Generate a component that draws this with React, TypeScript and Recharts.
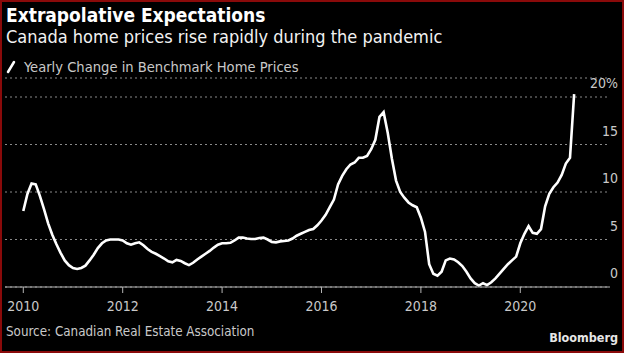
import React from 'react';
import { LineChart, Line, XAxis, YAxis, CartesianGrid } from 'recharts';

// yearly change in benchmark home prices (%), monthly, Jan of each year first
const v2010 = [8.0, 9.8, 10.9, 10.8, 9.6, 8.2, 6.7, 5.5, 4.5, 3.6, 2.8, 2.3];
const v2011 = [2.0, 1.9, 2.0, 2.25, 2.8, 3.4, 4.1, 4.6, 4.9, 5.0, 5.0, 5.0];
const v2012 = [4.9, 4.6, 4.45, 4.6, 4.7, 4.4, 4.0, 3.7, 3.5, 3.25, 3.0, 2.7];
const v2013 = [2.6, 2.85, 2.75, 2.5, 2.3, 2.55, 2.9, 3.2, 3.5, 3.8, 4.15, 4.45];
const v2014 = [4.6, 4.6, 4.65, 4.9, 5.2, 5.2, 5.1, 5.05, 5.05, 5.15, 5.2, 5.0];
const v2015 = [4.75, 4.7, 4.8, 4.85, 4.9, 5.1, 5.4, 5.6, 5.8, 6.0, 6.1, 6.5];
const v2016 = [7.0, 7.6, 8.4, 9.2, 10.8, 11.7, 12.4, 12.9, 13.1, 13.6, 13.6, 13.8];
const v2017 = [14.5, 15.5, 17.9, 18.4, 16.2, 13.5, 11.2, 10.0, 9.4, 8.9, 8.6, 8.4];
const v2018 = [7.3, 5.8, 2.4, 1.4, 1.2, 1.6, 2.8, 3.0, 2.9, 2.6, 2.2, 1.6];
const v2019 = [0.9, 0.4, 0.15, 0.4, 0.2, 0.5, 0.9, 1.4, 1.9, 2.4, 2.8, 3.2];
const v2020 = [4.6, 5.6, 6.4, 5.7, 5.6, 6.1, 8.5, 9.8, 10.5, 11.0, 11.8, 13.0];
const v2021 = [13.6, 20.3];

const startYear = 2010;
const yearValues = [v2010, v2011, v2012, v2013, v2014, v2015, v2016, v2017, v2018, v2019, v2020, v2021];

const xTicks = [2010, 2012, 2014, 2016, 2018, 2020];
const yTicks = [0, 5, 10, 15, 20];
const yTickLabels = ['0', '5', '10', '15', '20%'];

const data = yearValues.flatMap((vals, yi) =>
  vals.map((v, m) => ({ t: startYear + yi + m / 12, change: v }))
);

const FONT = "'DejaVu Sans Condensed', 'Liberation Sans Narrow', Roboto, sans-serif";
const GREY = '#c9c9c9';

const RightTick = (props: any) => {
  const { x, y, payload } = props;
  const i = yTicks.indexOf(payload.value);
  return (
    <text x={x + 8} y={y - 13} textAnchor="end" dominantBaseline="middle" fill={GREY} fontSize={14} fontFamily={FONT}>
      {yTickLabels[i]}
    </text>
  );
};

export default function App() {
  return (
    <div style={{ position: 'absolute', left: 0, top: 0, width: 624, height: 353, background: '#000', fontFamily: FONT, overflow: 'hidden' }}>
      <div style={{ position: 'absolute', left: 6, top: 4, color: '#fff', fontSize: 19, fontWeight: 'bold', lineHeight: '22px' }}>
        Extrapolative Expectations
      </div>
      <div style={{ position: 'absolute', left: 6, top: 26, color: '#f2f2f2', fontSize: 18, lineHeight: '22px' }}>
        Canada home prices rise rapidly during the pandemic
      </div>
      <div style={{ position: 'absolute', left: 6, top: 58, color: GREY, fontSize: 14.6, lineHeight: '18px', display: 'flex', alignItems: 'center' }}>
        <svg width={14} height={14} style={{ marginRight: 4 }}>
          <line x1={2} y1={12} x2={8} y2={2} stroke="#fff" strokeWidth={2.5} strokeLinecap="round" />
        </svg>
        Yearly Change in Benchmark Home Prices
      </div>

      <LineChart width={624} height={353} data={data} margin={{ top: 78, right: 0, bottom: 36, left: 5 }}>
        <CartesianGrid vertical={false} stroke="#8a8a8a" strokeDasharray="2 3" />
        <XAxis
          dataKey="t"
          type="number"
          domain={[2009.632, 2021.805]}
          ticks={xTicks}
          tickFormatter={(v: number) => String(Math.round(v))}
          axisLine={{ stroke: '#b5b5b5' }}
          tickLine={{ stroke: '#b5b5b5' }}
          tickSize={6}
          tickMargin={8}
          tick={{ fill: GREY, fontSize: 14, fontFamily: FONT }}
          height={30}
        />
        <YAxis
          orientation="right"
          type="number"
          domain={[0, 22]}
          ticks={yTicks}
          interval={0}
          width={14}
          axisLine={false}
          tickLine={false}
          tickSize={0}
          tickMargin={0}
          tick={RightTick}
        />
        <Line type="linear" dataKey="change" stroke="#fff" strokeWidth={2.6} dot={false} isAnimationActive={false} />
      </LineChart>

      <div style={{ position: 'absolute', left: 6, top: 323, color: GREY, fontSize: 13.3, lineHeight: '18px' }}>
        Source: Canadian Real Estate Association
      </div>
      <div style={{ position: 'absolute', right: 6, top: 329, color: '#e6e6e6', fontSize: 12.5, fontWeight: 'bold', lineHeight: '18px' }}>
        Bloomberg
      </div>
      <div style={{ position: 'absolute', inset: 0, border: '2px solid #8a0a0a', pointerEvents: 'none' }} />
    </div>
  );
}
